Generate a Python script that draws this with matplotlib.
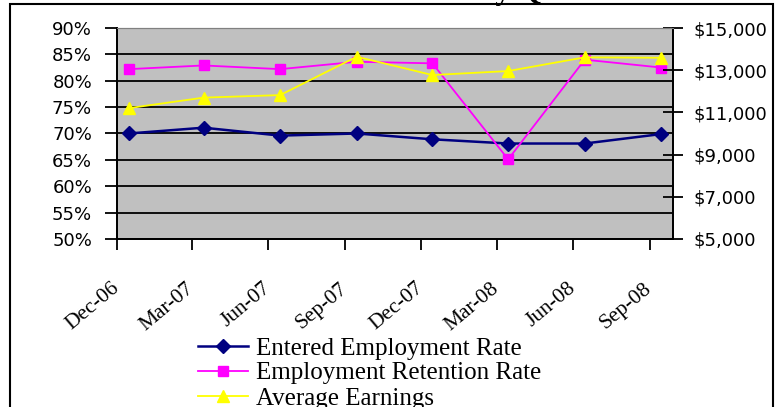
import pandas as pd
import matplotlib
matplotlib.use("Agg")
import matplotlib.pyplot as plt
from matplotlib.patches import Rectangle
from matplotlib.ticker import FuncFormatter

# Data
quarters = ["Dec-06", "Mar-07", "Jun-07", "Sep-07", "Dec-07", "Mar-08", "Jun-08", "Sep-08"]
tick_dates = pd.to_datetime(["2006-12-01", "2007-03-01", "2007-06-01", "2007-09-01",
                             "2007-12-01", "2008-03-01", "2008-06-01", "2008-09-01"])
point_dates = pd.to_datetime(["2006-12-15", "2007-03-15", "2007-06-15", "2007-09-15",
                              "2007-12-15", "2008-03-15", "2008-06-15", "2008-09-15"])
entered_rate = [70.0, 71.1, 69.6, 70.0, 68.9, 68.1, 68.1, 69.9]
retention_rate = [82.2, 82.9, 82.2, 83.6, 83.3, 65.1, 84.0, 82.5]
avg_earnings = [11200, 11700, 11820, 13640, 12770, 12960, 13610, 13590]

pct_ticks = [50, 55, 60, 65, 70, 75, 80, 85, 90]
dollar_ticks = [5000, 7000, 9000, 11000, 13000, 15000]

fig = plt.figure(figsize=(7.79, 4.07), dpi=100)
ax = fig.add_axes([0.1502, 0.4128, 0.7137, 0.5184])
ax.set_facecolor("#C0C0C0")

ax.plot(point_dates, entered_rate, color="#000080", lw=1.8, marker="D", ms=7,
        label="Entered Employment Rate", zorder=3)
ax.plot(point_dates, retention_rate, color="#FF00FF", lw=1.3, marker="s", ms=7.5,
        label="Employment Retention Rate", zorder=3)

ax.set_ylim(pct_ticks[0], pct_ticks[-1])
ax.set_yticks(pct_ticks)
ax.yaxis.set_major_formatter(FuncFormatter(lambda v, p: "%d%%" % v))
ax.grid(axis="y", color="black", lw=1.3)
ax.set_axisbelow(True)

ax.set_xlim(pd.Timestamp("2006-12-01"), pd.Timestamp("2008-09-29"))
ax.set_xticks(tick_dates)
ax.set_xticklabels(quarters, rotation=40, ha="right", va="center",
                   rotation_mode="anchor", family="Liberation Serif", fontsize=15.5)

ax2 = ax.twinx()
ax2.plot(point_dates, avg_earnings, color="#FFFF00", lw=1.3, marker="^", ms=8.5,
         label="Average Earnings", zorder=3)
ax2.set_ylim(dollar_ticks[0], dollar_ticks[-1])
ax2.set_yticks(dollar_ticks)
ax2.yaxis.set_major_formatter(FuncFormatter(lambda v, p: "${:,.0f}".format(v)))

for a in (ax, ax2):
    for side in ("left", "right", "bottom"):
        a.spines[side].set_color("black")
        a.spines[side].set_linewidth(1.3)
    a.spines["top"].set_color("#808080")

ax.tick_params(axis="y", direction="out", length=9, width=1.3, pad=9,
               labelsize=13, labelfontfamily="DejaVu Sans")
ax.tick_params(axis="x", direction="out", length=8, width=1.3, pad=26)
ax2.tick_params(axis="y", direction="inout", length=14, width=1.3, pad=8,
                labelsize=13, labelfontfamily="DejaVu Sans")

# Legend below the plot
handles = ax.get_lines() + ax2.get_lines()
fig.legend(handles, [h.get_label() for h in handles], loc="upper left",
           bbox_to_anchor=(198 / 779, 1 - 337 / 407), frameon=False,
           prop={"family": "Liberation Serif", "size": 18},
           handlelength=2.0, handletextpad=0.3, labelspacing=0.1,
           borderaxespad=0, borderpad=0)

# Title, mostly cut off at the top of the picture
fig.text(0.595, 1 + 1 / 407, "Performance by Quarter", ha="center", va="baseline",
         family="Liberation Serif", fontweight="bold", fontsize=22)

# Chart border
fig.patches.append(Rectangle((10 / 779, -0.1), 763 / 779, 1.1 - 4 / 407,
                             transform=fig.transFigure, fill=False,
                             edgecolor="black", lw=1.5))

fig.savefig("out.png", dpi=100)
